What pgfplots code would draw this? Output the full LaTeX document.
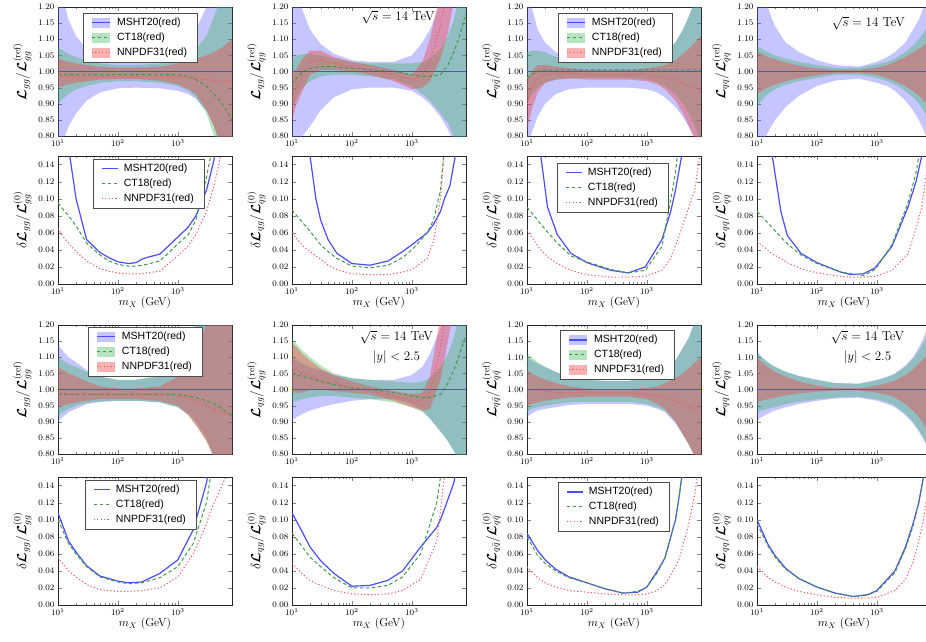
\documentclass[border=0pt]{standalone}
\usepackage{fix-cm}
\usepackage{bm}
\usepackage{fontspec}
\newfontfamily\legfont{Liberation Sans}
\usepackage{pgfplots}
\usepackage{pgfplotstable}
\usepgfplotslibrary{fillbetween}
\pgfplotsset{compat=1.18}

\definecolor{lineM}{rgb}{0.3,0.3,1.0}
\definecolor{lineC}{rgb}{0.25,0.6,0.3}
\definecolor{lineN}{rgb}{0.92,0.35,0.35}
\definecolor{bandM}{rgb}{0.35,0.35,1}
\definecolor{bandC}{rgb}{0.2,0.7,0.3}
\definecolor{bandN}{rgb}{0.95,0.25,0.25}

% ---------------- ratio panels: x mlo mhi cc clo chi nc nlo nhi
\pgfplotstableread{
x mlo mhi cc clo chi nc nlo nhi
10 0.72 1.32 0.99 0.90 1.075 0.985 0.95 1.04
12 0.78 1.23 0.99 0.915 1.065 0.985 0.955 1.035
15 0.83 1.16 0.99 0.93 1.055 0.985 0.96 1.03
20 0.87 1.11 0.99 0.945 1.045 0.985 0.965 1.025
30 0.91 1.07 0.99 0.955 1.035 0.985 0.97 1.02
50 0.935 1.045 0.99 0.965 1.025 0.985 0.975 1.015
100 0.948 1.032 0.99 0.97 1.02 0.985 0.977 1.012
200 0.95 1.03 0.99 0.97 1.02 0.985 0.977 1.012
500 0.948 1.035 0.99 0.965 1.025 0.985 0.972 1.015
1000 0.94 1.06 0.99 0.955 1.035 0.985 0.96 1.025
1500 0.93 1.09 0.985 0.94 1.05 0.98 0.945 1.035
2000 0.915 1.13 0.975 0.92 1.07 0.978 0.93 1.04
3000 0.88 1.20 0.955 0.87 1.11 0.975 0.88 1.05
4000 0.83 1.28 0.93 0.80 1.17 0.972 0.83 1.06
5000 0.77 1.36 0.91 0.72 1.22 0.97 0.78 1.07
6000 0.70 1.45 0.89 0.65 1.28 0.97 0.74 1.08
8000 0.60 1.60 0.85 0.55 1.40 0.97 0.68 1.10
}\tAa
\pgfplotstableread{
x mlo mhi cc clo chi nc nlo nhi
10 0.70 1.35 0.96 0.88 1.04 0.92 0.85 0.99
12 0.76 1.25 0.98 0.92 1.05 0.95 0.90 1.01
15 0.80 1.19 1.00 0.95 1.055 0.99 0.94 1.04
20 0.83 1.13 1.01 0.97 1.055 1.03 0.99 1.065
30 0.88 1.085 1.015 0.985 1.05 1.035 1.005 1.065
50 0.92 1.055 1.015 0.99 1.04 1.025 1.005 1.045
100 0.945 1.035 1.01 0.99 1.03 1.015 1.0 1.03
200 0.95 1.03 1.005 0.985 1.025 1.005 0.99 1.02
500 0.95 1.03 1.0 0.975 1.025 0.99 0.97 1.005
1000 0.94 1.05 0.99 0.955 1.025 0.975 0.945 0.99
1500 0.92 1.09 0.985 0.93 1.03 0.99 0.95 1.03
2000 0.90 1.13 0.985 0.91 1.04 1.03 0.97 1.10
3000 0.86 1.21 0.99 0.87 1.07 1.14 1.04 1.25
4000 0.82 1.29 1.02 0.84 1.11 1.27 1.12 1.38
5000 0.78 1.37 1.06 0.80 1.16 1.42 1.22 1.55
6000 0.74 1.45 1.10 0.77 1.22 1.57 1.32 1.75
8000 0.68 1.60 1.18 0.70 1.35 1.82 1.50 2.05
}\tAb
\pgfplotstableread{
x mlo mhi cc clo chi nc nlo nhi
10 0.75 1.28 0.98 0.90 1.06 0.90 0.82 0.98
12 0.81 1.20 0.99 0.93 1.065 0.95 0.88 1.0
15 0.86 1.13 1.0 0.95 1.065 0.98 0.935 1.02
20 0.90 1.09 1.005 0.965 1.06 0.99 0.965 1.02
30 0.93 1.06 1.005 0.975 1.045 0.995 0.975 1.015
50 0.945 1.04 1.005 0.98 1.035 0.995 0.978 1.01
100 0.95 1.032 1.005 0.98 1.03 0.99 0.975 1.005
200 0.95 1.03 1.005 0.98 1.03 0.99 0.975 1.005
500 0.95 1.03 1.005 0.98 1.03 0.99 0.975 1.005
1000 0.945 1.035 1.005 0.975 1.035 0.99 0.97 1.01
1500 0.935 1.045 1.005 0.965 1.045 0.985 0.96 1.015
2000 0.92 1.06 1.005 0.955 1.06 0.98 0.945 1.02
3000 0.89 1.09 1.005 0.93 1.09 0.975 0.91 1.035
4000 0.86 1.13 1.005 0.90 1.13 0.965 0.87 1.055
5000 0.83 1.17 1.005 0.87 1.17 0.955 0.83 1.07
6000 0.80 1.21 1.005 0.84 1.21 0.95 0.80 1.085
8000 0.74 1.30 1.005 0.78 1.28 0.94 0.74 1.11
}\tAc
\pgfplotstableread{
x mlo mhi cc clo chi nc nlo nhi
10 0.70 1.35 1.0 0.89 1.08 1.0 0.93 1.06
12 0.76 1.27 1.0 0.91 1.07 1.0 0.94 1.055
15 0.81 1.20 1.0 0.93 1.06 1.0 0.95 1.045
20 0.85 1.14 1.0 0.945 1.05 1.0 0.96 1.038
30 0.89 1.09 1.0 0.96 1.04 1.0 0.97 1.028
50 0.925 1.06 1.0 0.97 1.03 1.0 0.98 1.018
100 0.955 1.035 1.0 0.98 1.02 1.0 0.988 1.01
200 0.972 1.02 1.0 0.99 1.012 1.0 0.995 1.005
500 0.978 1.015 1.0 0.99 1.012 1.0 0.996 1.005
1000 0.965 1.03 1.0 0.98 1.022 1.0 0.99 1.012
1500 0.955 1.045 1.0 0.97 1.03 1.0 0.98 1.02
2000 0.94 1.06 1.0 0.96 1.04 1.0 0.97 1.03
3000 0.91 1.09 1.0 0.94 1.06 1.0 0.955 1.045
4000 0.88 1.13 1.0 0.92 1.08 1.0 0.94 1.06
5000 0.85 1.16 1.0 0.90 1.10 1.0 0.925 1.07
6000 0.82 1.20 1.0 0.88 1.12 1.0 0.91 1.08
8000 0.76 1.28 1.0 0.84 1.16 1.0 0.89 1.10
}\tAd
\pgfplotstableread{
x mlo mhi cc clo chi nc nlo nhi
10 0.90 1.14 0.985 0.92 1.10 0.99 0.945 1.07
12 0.915 1.12 0.985 0.93 1.09 0.99 0.95 1.06
15 0.93 1.10 0.985 0.94 1.08 0.985 0.955 1.05
20 0.94 1.085 0.985 0.95 1.07 0.985 0.96 1.04
30 0.955 1.06 0.985 0.958 1.055 0.985 0.965 1.025
50 0.962 1.04 0.985 0.962 1.04 0.985 0.97 1.01
100 0.965 1.03 0.985 0.965 1.03 0.985 0.97 1.003
200 0.965 1.03 0.985 0.965 1.03 0.985 0.97 1.003
500 0.96 1.04 0.985 0.96 1.045 0.985 0.965 1.01
1000 0.945 1.09 0.985 0.945 1.09 0.98 0.95 1.04
1500 0.925 1.15 0.98 0.92 1.14 0.975 0.92 1.08
2000 0.90 1.21 0.975 0.89 1.19 0.965 0.89 1.12
3000 0.85 1.32 0.965 0.84 1.28 0.95 0.84 1.20
4000 0.79 1.43 0.955 0.79 1.37 0.94 0.79 1.28
5000 0.73 1.55 0.945 0.73 1.46 0.93 0.74 1.35
6000 0.67 1.65 0.935 0.67 1.55 0.925 0.70 1.42
8000 0.55 1.80 0.92 0.55 1.70 0.92 0.62 1.55
}\tCa
\pgfplotstableread{
x mlo mhi cc clo chi nc nlo nhi
10 0.905 1.10 1.05 0.96 1.16 1.07 0.99 1.145
12 0.915 1.09 1.045 0.965 1.14 1.06 0.99 1.13
15 0.925 1.08 1.04 0.97 1.12 1.05 0.99 1.11
20 0.935 1.07 1.035 0.975 1.10 1.04 1.0 1.09
30 0.945 1.06 1.025 0.98 1.075 1.03 1.0 1.065
50 0.955 1.045 1.015 0.98 1.05 1.02 0.995 1.045
100 0.965 1.035 1.005 0.975 1.035 1.005 0.99 1.025
200 0.97 1.03 1.0 0.97 1.03 0.995 0.985 1.01
500 0.97 1.03 0.99 0.96 1.025 0.98 0.965 0.995
1000 0.955 1.045 0.98 0.945 1.02 0.965 0.945 0.985
1500 0.935 1.07 0.975 0.93 1.025 0.965 0.935 0.99
2000 0.91 1.11 0.975 0.91 1.035 0.99 0.94 1.04
3000 0.87 1.19 0.985 0.87 1.07 1.13 1.03 1.23
4000 0.84 1.26 1.02 0.84 1.11 1.30 1.15 1.45
5000 0.81 1.33 1.06 0.81 1.16 1.45 1.25 1.65
6000 0.79 1.40 1.10 0.78 1.22 1.60 1.35 1.85
8000 0.75 1.55 1.17 0.72 1.35 1.85 1.50 2.20
}\tCb
\pgfplotstableread{
x mlo mhi cc clo chi nc nlo nhi
10 0.915 1.10 1.0 0.93 1.11 1.0 0.95 1.06
12 0.925 1.09 1.0 0.94 1.10 1.0 0.955 1.05
15 0.935 1.08 1.0 0.945 1.085 1.0 0.96 1.04
20 0.94 1.07 1.0 0.95 1.07 0.995 0.965 1.03
30 0.945 1.055 1.0 0.955 1.055 0.99 0.97 1.02
50 0.952 1.04 1.0 0.96 1.04 0.99 0.975 1.01
100 0.955 1.03 1.0 0.962 1.03 0.99 0.978 1.003
200 0.955 1.027 1.0 0.962 1.027 0.99 0.978 1.0
500 0.955 1.027 1.0 0.962 1.027 0.99 0.978 1.0
1000 0.95 1.035 1.0 0.955 1.035 0.985 0.97 1.005
1500 0.94 1.045 1.0 0.945 1.045 0.98 0.955 1.01
2000 0.93 1.06 1.0 0.935 1.06 0.975 0.94 1.02
3000 0.895 1.09 1.0 0.90 1.09 0.965 0.90 1.035
4000 0.86 1.13 1.0 0.86 1.13 0.955 0.86 1.05
5000 0.83 1.16 1.0 0.83 1.16 0.945 0.83 1.065
6000 0.80 1.20 1.0 0.80 1.20 0.94 0.80 1.08
8000 0.74 1.28 1.0 0.74 1.28 0.93 0.74 1.10
}\tCc
\pgfplotstableread{
x mlo mhi cc clo chi nc nlo nhi
10 0.905 1.12 1.0 0.93 1.11 1.0 0.96 1.10
12 0.915 1.10 1.0 0.935 1.10 1.0 0.965 1.085
15 0.925 1.085 1.0 0.94 1.085 1.0 0.97 1.07
20 0.935 1.07 1.0 0.945 1.07 1.0 0.975 1.055
30 0.945 1.055 1.0 0.955 1.055 1.0 0.982 1.04
50 0.955 1.042 1.0 0.962 1.042 1.0 0.988 1.025
100 0.965 1.03 1.0 0.97 1.03 1.0 0.993 1.012
200 0.972 1.02 1.0 0.975 1.02 1.0 0.997 1.004
500 0.975 1.018 1.0 0.977 1.018 1.0 0.997 1.004
1000 0.965 1.03 1.0 0.97 1.028 1.0 0.99 1.012
1500 0.955 1.04 1.0 0.96 1.038 1.0 0.983 1.02
2000 0.945 1.05 1.0 0.95 1.048 1.0 0.975 1.028
3000 0.92 1.075 1.0 0.925 1.07 1.0 0.955 1.045
4000 0.895 1.10 1.0 0.90 1.095 1.0 0.935 1.062
5000 0.87 1.13 1.0 0.875 1.12 1.0 0.915 1.08
6000 0.845 1.16 1.0 0.85 1.145 1.0 0.895 1.095
8000 0.80 1.22 1.0 0.80 1.19 1.0 0.86 1.12
}\tCd

% ---------------- delta panels: x m c n
\pgfplotstableread{
x m c n
10 0.30 0.095 0.065
12 0.22 0.088 0.056
15 0.16 0.080 0.048
20 0.10 0.068 0.038
30 0.052 0.048 0.027
50 0.037 0.034 0.018
70 0.031 0.027 0.015
100 0.026 0.023 0.013
150 0.024 0.021 0.012
200 0.025 0.021 0.012
250 0.029 0.022 0.012
300 0.031 0.023 0.013
500 0.035 0.027 0.015
1000 0.055 0.047 0.033
1500 0.067 0.058 0.045
2000 0.080 0.075 0.058
3000 0.11 0.125 0.085
4000 0.145 0.17 0.115
5000 0.19 0.22 0.145
6000 0.24 0.27 0.18
8000 0.35 0.38 0.26
}\tBa
\pgfplotstableread{
x m c n
10 0.40 0.087 0.060
12 0.30 0.080 0.053
15 0.22 0.072 0.045
20 0.15 0.062 0.038
25 0.10 0.053 0.033
30 0.075 0.046 0.029
40 0.052 0.038 0.022
56 0.036 0.030 0.017
100 0.024 0.021 0.012
200 0.022 0.019 0.011
400 0.027 0.022 0.011
700 0.038 0.031 0.014
1000 0.046 0.040 0.017
1800 0.060 0.060 0.030
2300 0.070 0.075 0.050
3000 0.085 0.11 0.10
3500 0.10 0.16 0.16
4300 0.115 0.22 0.24
5300 0.15 0.30 0.35
8000 0.25 0.50 0.60
}\tBb
\pgfplotstableread{
x m c n
10 0.50 0.090 0.063
15 0.25 0.075 0.045
17 0.15 0.070 0.040
22 0.09 0.061 0.032
32 0.058 0.048 0.024
54 0.036 0.033 0.016
100 0.025 0.026 0.011
250 0.016 0.017 0.008
490 0.013 0.013 0.008
940 0.020 0.016 0.009
1780 0.052 0.044 0.016
2500 0.085 0.099 0.030
3000 0.11 0.13 0.045
3800 0.15 0.20 0.065
5000 0.23 0.30 0.09
6300 0.35 0.40 0.11
8000 0.50 0.55 0.16
}\tBc
\pgfplotstableread{
x m c n
10 0.50 0.085 0.050
15 0.28 0.072 0.040
18 0.15 0.066 0.035
25 0.085 0.055 0.030
32 0.057 0.047 0.025
54 0.036 0.034 0.018
100 0.025 0.024 0.013
250 0.014 0.014 0.009
370 0.011 0.012 0.008
600 0.012 0.010 0.008
940 0.019 0.017 0.009
1780 0.044 0.046 0.016
3300 0.090 0.095 0.035
4500 0.12 0.13 0.065
5600 0.15 0.17 0.09
7000 0.20 0.22 0.14
8000 0.25 0.26 0.18
}\tBd
\pgfplotstableread{
x m c n
10 0.108 0.100 0.056
15 0.075 0.072 0.040
20 0.062 0.060 0.033
30 0.046 0.045 0.024
50 0.034 0.033 0.018
100 0.028 0.027 0.016
150 0.026 0.025 0.016
250 0.027 0.026 0.017
500 0.037 0.032 0.020
1000 0.053 0.045 0.033
1800 0.088 0.072 0.060
3000 0.143 0.12 0.095
3500 0.17 0.15 0.11
6300 0.30 0.30 0.15
8000 0.40 0.40 0.20
}\tDa
\pgfplotstableread{
x m c n
10 0.108 0.084 0.049
15 0.085 0.068 0.036
20 0.068 0.056 0.029
30 0.052 0.045 0.023
50 0.037 0.032 0.017
100 0.022 0.020 0.013
200 0.023 0.020 0.012
400 0.029 0.023 0.013
700 0.040 0.033 0.017
1400 0.068 0.060 0.030
2600 0.091 0.12 0.075
3000 0.10 0.15 0.11
3600 0.115 0.20 0.16
5000 0.143 0.28 0.25
8000 0.22 0.40 0.40
}\tDb
\pgfplotstableread{
x m c n
10 0.084 0.080 0.045
15 0.064 0.058 0.032
20 0.053 0.049 0.026
30 0.042 0.040 0.021
50 0.033 0.032 0.017
100 0.026 0.026 0.015
200 0.019 0.019 0.013
400 0.014 0.014 0.012
700 0.015 0.016 0.012
1000 0.021 0.021 0.013
1500 0.040 0.038 0.017
2000 0.055 0.055 0.024
3000 0.10 0.10 0.045
3500 0.13 0.13 0.055
4000 0.16 0.16 0.07
5000 0.22 0.22 0.095
6300 0.30 0.30 0.13
8000 0.40 0.40 0.18
}\tDc
\pgfplotstableread{
x m c n
10 0.100 0.095 0.045
15 0.072 0.070 0.033
20 0.058 0.056 0.027
30 0.043 0.042 0.021
50 0.031 0.031 0.016
100 0.021 0.021 0.012
200 0.014 0.014 0.009
400 0.010 0.010 0.008
700 0.012 0.012 0.008
1000 0.017 0.016 0.009
2000 0.040 0.038 0.017
3000 0.068 0.066 0.030
4000 0.095 0.092 0.050
5000 0.12 0.12 0.075
6000 0.15 0.15 0.10
8000 0.22 0.22 0.16
}\tDd

\tikzset{
  stM/.style={draw=lineM, line width=1.2pt},
  stC/.style={draw=lineC, line width=1.0pt, dash pattern=on 3.5pt off 2.5pt},
  stN/.style={draw=lineN, line width=1.0pt, dash pattern=on 1.2pt off 2.2pt},
}

\newcommand{\ratiopanel}[7]{%
\begin{axis}[scale only axis, width=174pt, height=129pt,
  xmode=log, xmin=10, xmax=8000, xtick={10,100,1000},
  ymin=0.8, ymax=1.2, ytick={0.8,0.85,0.9,0.95,1,1.05,1.1,1.15,1.2},
  tick align=inside, major tick length=4pt, minor tick length=2pt,
  ticklabel style={font=\fontsize{8.5}{10}\selectfont},
  axis line style={line width=0.8pt, black!85},
  ylabel style={font=\fontsize{13.5}{15}\selectfont},
  yticklabel style={/pgf/number format/fixed, /pgf/number format/fixed zerofill, /pgf/number format/precision=2},
  legend cell align=left,
  legend style={font=\legfont\fontsize{10.5}{12}\selectfont, draw=black!70, line width=0.6pt,
     fill=white, anchor=north west, inner xsep=8pt, inner ysep=2pt, row sep=0pt, column sep=4pt,
     nodes={inner sep=2.5pt, text height=7.5pt, text depth=2.5pt}},
  ylabel={$\bm{\mathcal{L}}_{#4}/\bm{\mathcal{L}}_{#4}^{(\mathrm{ref})}$}, #5,
  at={(#1pt,-#2pt)}, anchor=south west]
\addlegendimage{legend image code/.code={\fill[bandM,fill opacity=0.35,draw=none] (0pt,-5pt) rectangle (18pt,5pt); \draw[stM] (0pt,0pt) -- (18pt,0pt);}}
\addlegendimage{legend image code/.code={\fill[bandC,fill opacity=0.35,draw=none] (0pt,-5pt) rectangle (18pt,5pt); \draw[stC] (0pt,0pt) -- (18pt,0pt);}}
\addlegendimage{legend image code/.code={\fill[bandN,fill opacity=0.4,draw=none] (0pt,-5pt) rectangle (18pt,5pt); \draw[stN] (0pt,0pt) -- (18pt,0pt);}}
\addplot[draw=none, forget plot, name path=mlo#7] table[x=x,y=mlo]{#3};
\addplot[draw=none, forget plot, name path=mhi#7] table[x=x,y=mhi]{#3};
\addplot[fill=bandM, fill opacity=0.35, draw=none, forget plot] fill between[of=mhi#7 and mlo#7];
\addplot[draw=none, forget plot, name path=clo#7] table[x=x,y=clo]{#3};
\addplot[draw=none, forget plot, name path=chi#7] table[x=x,y=chi]{#3};
\addplot[fill=bandC, fill opacity=0.35, draw=none, forget plot] fill between[of=chi#7 and clo#7];
\addplot[draw=none, forget plot, name path=nlo#7] table[x=x,y=nlo]{#3};
\addplot[draw=none, forget plot, name path=nhi#7] table[x=x,y=nhi]{#3};
\addplot[fill=bandN, fill opacity=0.4, draw=none, forget plot] fill between[of=nhi#7 and nlo#7];
\addplot[stC, forget plot] table[x=x,y=cc]{#3};
\addplot[stN, forget plot] table[x=x,y=nc]{#3};
\addplot[stM, forget plot] coordinates {(10,1) (8000,1)};
#6
\end{axis}}

\newcommand{\deltapanel}[5]{%
\begin{axis}[scale only axis, width=174pt, height=128pt,
  xmode=log, xmin=10, xmax=8000, xtick={10,100,1000},
  ymin=0, ymax=0.15, ytick={0,0.02,0.04,0.06,0.08,0.1,0.12,0.14},
  tick align=inside, major tick length=4pt, minor tick length=2pt,
  ticklabel style={font=\fontsize{8.5}{10}\selectfont},
  axis line style={line width=0.8pt, black!85},
  ylabel style={font=\fontsize{13.5}{15}\selectfont},
  xlabel style={font=\fontsize{11.5}{13}\selectfont, yshift=4pt},
  yticklabel style={/pgf/number format/fixed, /pgf/number format/fixed zerofill, /pgf/number format/precision=2},
  legend cell align=left,
  legend style={font=\legfont\fontsize{10.5}{12}\selectfont, draw=black!70, line width=0.6pt,
     fill=white, anchor=north west, inner xsep=8pt, inner ysep=2pt, row sep=0pt, column sep=3pt,
     nodes={inner sep=2.5pt, text height=7.5pt, text depth=2.5pt}},
  ylabel={$\delta\bm{\mathcal{L}}_{#4}/\bm{\mathcal{L}}_{#4}^{(0)}$},
  xlabel={$m_X$ (GeV)}, #5,
  at={(#1pt,-#2pt)}, anchor=south west]
\addlegendimage{legend image code/.code={\draw[stM] (0pt,0pt) -- (16pt,0pt);}}
\addlegendimage{legend image code/.code={\draw[stC] (0pt,0pt) -- (16pt,0pt);}}
\addlegendimage{legend image code/.code={\draw[stN] (0pt,0pt) -- (16pt,0pt);}}
\addplot[stM, forget plot] table[x=x,y=m]{#3};
\addplot[stC, forget plot] table[x=x,y=c]{#3};
\addplot[stN, forget plot] table[x=x,y=n]{#3};
\end{axis}}

\newcommand{\annot}[3]{\node[font=\fontsize{13}{15}\selectfont] at (rel axis cs:#1,#2) {#3};}

\begin{document}
\begin{tikzpicture}
% row 1
\ratiopanel{58}{136}{\tAa}{gg}{legend entries={MSHT20(red),CT18(red),NNPDF31(red)}, legend style={at={(0.144,0.953)}}}{}{pa}
\ratiopanel{292}{136}{\tAb}{qg}{}{\annot{0.61}{0.92}{$\sqrt{s}=14$ TeV}}{pb}
\ratiopanel{527}{136}{\tAc}{q\bar q}{legend entries={MSHT20(red),CT18(red),NNPDF31(red)}, legend style={at={(0.178,0.953)}}}{}{pc}
\ratiopanel{757}{136}{\tAd}{qq}{}{\annot{0.64}{0.876}{$\sqrt{s}=14$ TeV}}{pd}
% row 2
\deltapanel{58}{284}{\tBa}{gg}{legend entries={MSHT20(red),CT18(red),NNPDF31(red)}, legend style={at={(0.2,0.977)}}}
\deltapanel{292}{284}{\tBb}{qg}{}
\deltapanel{527}{284}{\tBc}{q\bar q}{legend entries={MSHT20(red),CT18(red),NNPDF31(red)}, legend style={at={(0.172,0.946)}}}
\deltapanel{757}{284}{\tBd}{qq}{}
% row 3
\ratiopanel{58}{454}{\tCa}{gg}{legend entries={MSHT20(red),CT18(red),NNPDF31(red)}, legend style={at={(0.172,0.985)}}}{}{pe}
\ratiopanel{292}{454}{\tCb}{qg}{}{\annot{0.60}{0.907}{$\sqrt{s}=14$ TeV}\annot{0.60}{0.752}{$|y|<2.5$}}{pf}
\ratiopanel{527}{454}{\tCc}{q\bar q}{legend entries={MSHT20(red),CT18(red),NNPDF31(red)}, legend style={at={(0.19,0.96)}}}{}{pg}
\ratiopanel{757}{454}{\tCd}{qq}{}{\annot{0.635}{0.907}{$\sqrt{s}=14$ TeV}\annot{0.635}{0.752}{$|y|<2.5$}}{ph}
% row 4
\deltapanel{58}{605}{\tDa}{gg}{legend entries={MSHT20(red),CT18(red),NNPDF31(red)}, legend style={at={(0.155,0.977)}}}
\deltapanel{292}{605}{\tDb}{qg}{}
\deltapanel{527}{605}{\tDc}{q\bar q}{legend entries={MSHT20(red),CT18(red),NNPDF31(red)}, legend style={at={(0.178,0.96)}}}
\deltapanel{757}{605}{\tDd}{qq}{}
\pgfresetboundingbox
\path[use as bounding box] (0pt,0pt) rectangle (926pt,-641pt);
\end{tikzpicture}
\end{document}
